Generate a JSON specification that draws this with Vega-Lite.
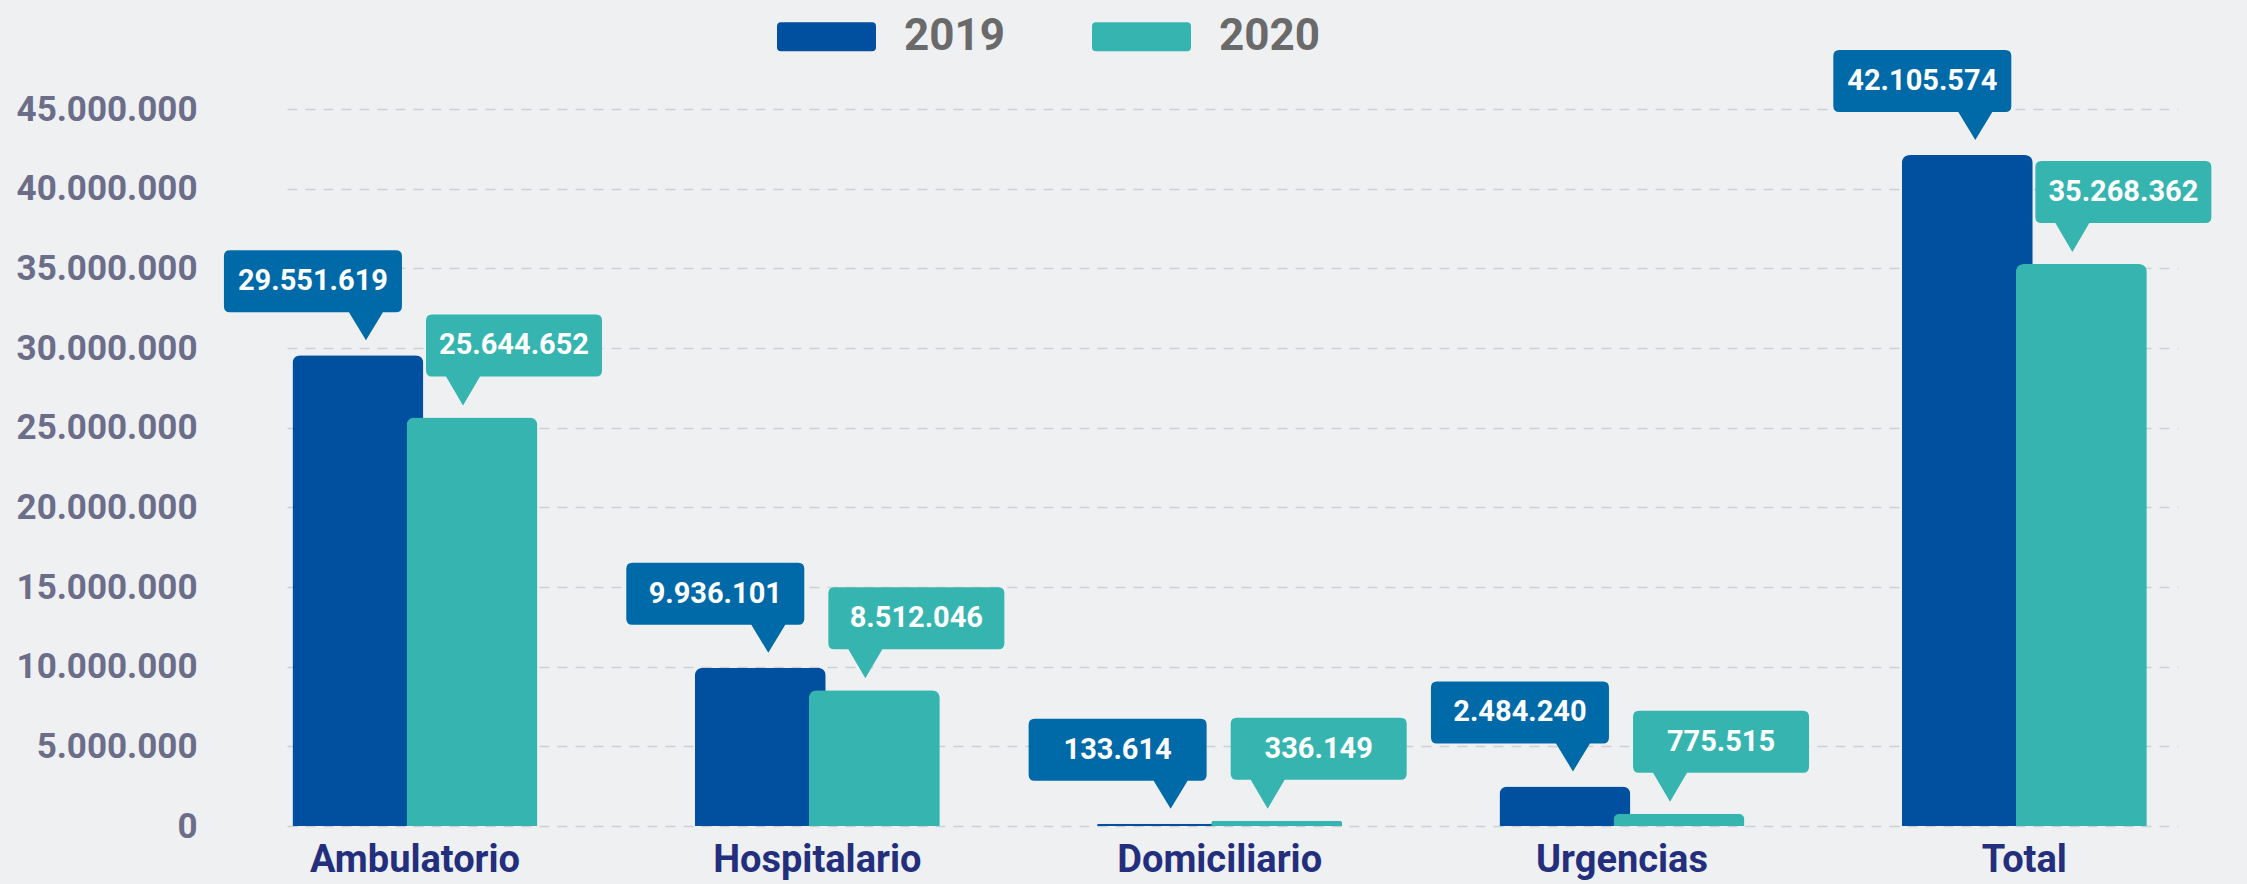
{
  "$schema": "https://vega.github.io/schema/vega-lite/v6.json",
  "width": 1891,
  "height": 717,
  "autosize": {"type": "none"},
  "padding": {"left": 287, "top": 109, "right": 69, "bottom": 58},
  "background": "#eef0f2",
  "config": {
    "view": {"stroke": null},
    "locale": {"number": {"decimal": ",", "thousands": ".", "grouping": [3], "currency": ["", ""]}}
  },
  "data": {
    "values": [
      {"category": "Ambulatorio", "year": "2019", "value": 29551619},
      {"category": "Hospitalario", "year": "2019", "value": 9936101},
      {"category": "Domiciliario", "year": "2019", "value": 133614},
      {"category": "Urgencias", "year": "2019", "value": 2484240},
      {"category": "Total", "year": "2019", "value": 42105574},
      {"category": "Ambulatorio", "year": "2020", "value": 25644652},
      {"category": "Hospitalario", "year": "2020", "value": 8512046},
      {"category": "Domiciliario", "year": "2020", "value": 336149},
      {"category": "Urgencias", "year": "2020", "value": 775515},
      {"category": "Total", "year": "2020", "value": 35268362}
    ]
  },
  "encoding": {
    "x": {
      "field": "category",
      "type": "nominal",
      "sort": null,
      "scale": {"paddingInner": 0.433, "paddingOuter": 0.0665, "align": 0.26},
      "axis": {
        "title": null,
        "domain": false,
        "ticks": false,
        "grid": false,
        "labelAngle": 0,
        "labelPadding": 15,
        "labelLimit": 0,
        "labelFont": "Roboto",
        "labelFontWeight": "bold",
        "labelFontSize": 38,
        "labelColor": "#232f7c"
      }
    },
    "xOffset": {
      "field": "year",
      "type": "nominal",
      "scale": {"domain": ["2019", "2020"], "paddingInner": 0, "paddingOuter": 0}
    },
    "y": {
      "field": "value",
      "type": "quantitative",
      "scale": {"domain": [0, 45000000], "nice": false},
      "axis": {
        "title": null,
        "values": [0, 5000000, 10000000, 15000000, 20000000, 25000000, 30000000, 35000000, 40000000, 45000000],
        "format": ",d",
        "domain": false,
        "ticks": false,
        "labelPadding": 90,
        "labelLimit": 0,
        "labelFont": "Roboto",
        "labelFontWeight": "bold",
        "labelFontSize": 35,
        "labelColor": "#6b6d89",
        "grid": true,
        "gridDash": [10, 8],
        "gridColor": "#cdd1d7",
        "gridWidth": 1.5
      }
    }
  },
  "layer": [
    {
      "mark": {"type": "bar", "width": 131, "cornerRadiusTopLeft": 8, "cornerRadiusTopRight": 8},
      "encoding": {
        "color": {
          "field": "year",
          "type": "nominal",
          "scale": {"domain": ["2019", "2020"], "range": ["#00509f", "#36b5b0"]},
          "legend": {
            "title": null,
            "orient": "none",
            "legendX": 490,
            "legendY": -122,
            "direction": "horizontal",
            "symbolType": "M-0.92,-0.293H0.92Q1,-0.293 1,-0.213V0.213Q1,0.293 0.92,0.293H-0.92Q-1,0.293 -1,0.213V-0.213Q-1,-0.293 -0.92,-0.293Z",
            "symbolSize": 9801,
            "symbolStrokeWidth": 0,
            "symbolOpacity": 1,
            "labelFont": "Roboto",
            "labelFontWeight": "bold",
            "labelFontSize": 44,
            "labelColor": "#6a6a6a",
            "labelOffset": 28,
            "labelLimit": 0,
            "columnPadding": 87,
            "padding": 0
          }
        }
      }
    },
    {
      "transform": [{"filter": "datum.year == '2019'"}],
      "mark": {
        "type": "point",
        "shape": "M-1.28,-1.05H0.38Q0.44,-1.05 0.44,-0.99V-0.49Q0.44,-0.43 0.38,-0.43H0.25L0.08,-0.15L-0.09,-0.43H-1.28Q-1.34,-0.43 -1.34,-0.49V-0.99Q-1.34,-1.05 -1.28,-1.05Z",
        "size": 40000,
        "filled": true,
        "fill": "#006aa9",
        "opacity": 1,
        "strokeWidth": 0
      }
    },
    {
      "transform": [{"filter": "datum.year == '2020'"}],
      "mark": {
        "type": "point",
        "shape": "M-0.4,-1.03H1.24Q1.3,-1.03 1.3,-0.97V-0.47Q1.3,-0.41 1.24,-0.41H0.08L-0.09,-0.12L-0.26,-0.41H-0.4Q-0.46,-0.41 -0.46,-0.47V-0.97Q-0.46,-1.03 -0.4,-1.03Z",
        "size": 40000,
        "filled": true,
        "fill": "#36b5b0",
        "opacity": 1,
        "strokeWidth": 0
      }
    },
    {
      "transform": [{"filter": "datum.year == '2019'"}],
      "mark": {"type": "text", "dx": -45, "dy": -74, "align": "center", "baseline": "middle", "font": "Roboto", "fontWeight": "bold", "fontSize": 29, "color": "#ffffff"},
      "encoding": {"text": {"field": "value", "type": "quantitative", "format": ",d"}}
    },
    {
      "transform": [{"filter": "datum.year == '2020'"}],
      "mark": {"type": "text", "dx": 42, "dy": -72, "align": "center", "baseline": "middle", "font": "Roboto", "fontWeight": "bold", "fontSize": 29, "color": "#ffffff"},
      "encoding": {"text": {"field": "value", "type": "quantitative", "format": ",d"}}
    }
  ]
}
